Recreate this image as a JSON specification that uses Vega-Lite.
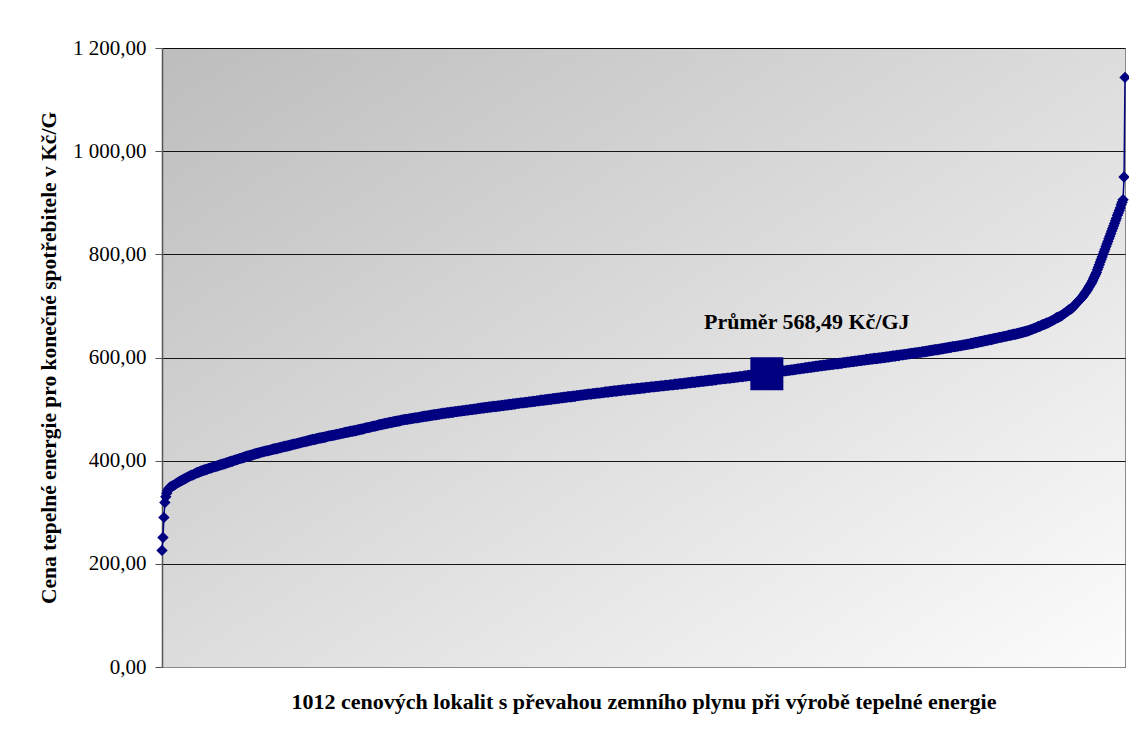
{
  "$schema": "https://vega.github.io/schema/vega-lite/v6.json",
  "autosize": {"type": "none"},
  "width": 963,
  "height": 619,
  "padding": {"left": 162, "top": 48, "right": 4, "bottom": 68},
  "background": "#ffffff",
  "config": {
    "locale": {"number": {"decimal": ",", "thousands": " ", "grouping": [3], "currency": ["", " Kč"]}},
    "view": {
      "stroke": "#8a8a8a",
      "strokeWidth": 1,
      "fill": {"gradient": "linear", "x1": 0, "y1": 0, "x2": 1, "y2": 1,
        "stops": [{"offset": 0, "color": "#bdbdbd"}, {"offset": 1, "color": "#fcfcfc"}]}
    },
    "font": "Liberation Serif"
  },
  "datasets": {
    "prices": [
{"v":226},{"v":251},{"v":290},{"v":319},{"v":330},{"v":337},{"v":342},{"v":345},{"v":348},{"v":349},
{"v":350},{"v":351},{"v":352},{"v":353},{"v":354},{"v":356},{"v":357},{"v":358},{"v":359},{"v":360},
{"v":361},{"v":362},{"v":363},{"v":364},{"v":365},{"v":366},{"v":367},{"v":368},{"v":369},{"v":370},
{"v":371},{"v":372},{"v":372},{"v":373},{"v":374},{"v":375},{"v":376},{"v":377},{"v":377},{"v":378},
{"v":379},{"v":380},{"v":380},{"v":381},{"v":382},{"v":382},{"v":383},{"v":383},{"v":384},{"v":385},
{"v":385},{"v":386},{"v":386},{"v":387},{"v":388},{"v":388},{"v":389},{"v":389},{"v":390},{"v":390},
{"v":391},{"v":392},{"v":392},{"v":393},{"v":393},{"v":394},{"v":394},{"v":395},{"v":396},{"v":396},
{"v":397},{"v":398},{"v":398},{"v":399},{"v":399},{"v":400},{"v":401},{"v":401},{"v":402},{"v":402},
{"v":403},{"v":404},{"v":404},{"v":405},{"v":405},{"v":406},{"v":406},{"v":407},{"v":408},{"v":408},
{"v":409},{"v":409},{"v":410},{"v":410},{"v":411},{"v":411},{"v":412},{"v":413},{"v":413},{"v":414},
{"v":414},{"v":415},{"v":415},{"v":416},{"v":416},{"v":417},{"v":417},{"v":418},{"v":418},{"v":419},
{"v":419},{"v":419},{"v":420},{"v":420},{"v":421},{"v":421},{"v":422},{"v":422},{"v":423},{"v":423},
{"v":423},{"v":424},{"v":424},{"v":425},{"v":425},{"v":426},{"v":426},{"v":427},{"v":427},{"v":428},
{"v":428},{"v":428},{"v":429},{"v":429},{"v":430},{"v":430},{"v":431},{"v":431},{"v":432},{"v":432},
{"v":432},{"v":433},{"v":433},{"v":434},{"v":434},{"v":435},{"v":435},{"v":436},{"v":436},{"v":437},
{"v":437},{"v":437},{"v":438},{"v":438},{"v":439},{"v":439},{"v":440},{"v":440},{"v":441},{"v":441},
{"v":441},{"v":442},{"v":442},{"v":443},{"v":443},{"v":444},{"v":444},{"v":444},{"v":445},{"v":445},
{"v":445},{"v":446},{"v":446},{"v":447},{"v":447},{"v":448},{"v":448},{"v":448},{"v":449},{"v":449},
{"v":449},{"v":450},{"v":450},{"v":451},{"v":451},{"v":451},{"v":452},{"v":452},{"v":453},{"v":453},
{"v":453},{"v":454},{"v":454},{"v":455},{"v":455},{"v":455},{"v":456},{"v":456},{"v":457},{"v":457},
{"v":457},{"v":458},{"v":458},{"v":458},{"v":459},{"v":459},{"v":460},{"v":460},{"v":461},{"v":461},
{"v":461},{"v":462},{"v":462},{"v":463},{"v":463},{"v":464},{"v":464},{"v":464},{"v":465},{"v":465},
{"v":466},{"v":466},{"v":467},{"v":467},{"v":467},{"v":468},{"v":468},{"v":469},{"v":469},{"v":470},
{"v":470},{"v":470},{"v":471},{"v":471},{"v":472},{"v":472},{"v":472},{"v":473},{"v":473},{"v":474},
{"v":474},{"v":474},{"v":475},{"v":475},{"v":476},{"v":476},{"v":476},{"v":477},{"v":477},{"v":477},
{"v":478},{"v":478},{"v":479},{"v":479},{"v":479},{"v":480},{"v":480},{"v":480},{"v":480},{"v":481},
{"v":481},{"v":481},{"v":482},{"v":482},{"v":482},{"v":483},{"v":483},{"v":483},{"v":483},{"v":484},
{"v":484},{"v":484},{"v":485},{"v":485},{"v":485},{"v":486},{"v":486},{"v":486},{"v":486},{"v":487},
{"v":487},{"v":487},{"v":488},{"v":488},{"v":488},{"v":489},{"v":489},{"v":489},{"v":489},{"v":490},
{"v":490},{"v":490},{"v":491},{"v":491},{"v":491},{"v":492},{"v":492},{"v":492},{"v":492},{"v":493},
{"v":493},{"v":493},{"v":493},{"v":494},{"v":494},{"v":494},{"v":494},{"v":495},{"v":495},{"v":495},
{"v":495},{"v":496},{"v":496},{"v":496},{"v":496},{"v":497},{"v":497},{"v":497},{"v":497},{"v":498},
{"v":498},{"v":498},{"v":498},{"v":499},{"v":499},{"v":499},{"v":499},{"v":500},{"v":500},{"v":500},
{"v":500},{"v":501},{"v":501},{"v":501},{"v":501},{"v":502},{"v":502},{"v":502},{"v":502},{"v":503},
{"v":503},{"v":503},{"v":503},{"v":504},{"v":504},{"v":504},{"v":504},{"v":505},{"v":505},{"v":505},
{"v":505},{"v":505},{"v":506},{"v":506},{"v":506},{"v":506},{"v":507},{"v":507},{"v":507},{"v":507},
{"v":508},{"v":508},{"v":508},{"v":508},{"v":509},{"v":509},{"v":509},{"v":509},{"v":510},{"v":510},
{"v":510},{"v":510},{"v":511},{"v":511},{"v":511},{"v":511},{"v":512},{"v":512},{"v":512},{"v":512},
{"v":512},{"v":513},{"v":513},{"v":513},{"v":513},{"v":514},{"v":514},{"v":514},{"v":514},{"v":515},
{"v":515},{"v":515},{"v":515},{"v":516},{"v":516},{"v":516},{"v":516},{"v":517},{"v":517},{"v":517},
{"v":517},{"v":517},{"v":518},{"v":518},{"v":518},{"v":518},{"v":519},{"v":519},{"v":519},{"v":519},
{"v":520},{"v":520},{"v":520},{"v":520},{"v":521},{"v":521},{"v":521},{"v":521},{"v":522},{"v":522},
{"v":522},{"v":522},{"v":523},{"v":523},{"v":523},{"v":523},{"v":524},{"v":524},{"v":524},{"v":524},
{"v":524},{"v":525},{"v":525},{"v":525},{"v":525},{"v":526},{"v":526},{"v":526},{"v":526},{"v":527},
{"v":527},{"v":527},{"v":527},{"v":528},{"v":528},{"v":528},{"v":528},{"v":529},{"v":529},{"v":529},
{"v":529},{"v":529},{"v":530},{"v":530},{"v":530},{"v":530},{"v":531},{"v":531},{"v":531},{"v":531},
{"v":531},{"v":532},{"v":532},{"v":532},{"v":532},{"v":533},{"v":533},{"v":533},{"v":533},{"v":533},
{"v":534},{"v":534},{"v":534},{"v":534},{"v":535},{"v":535},{"v":535},{"v":535},{"v":535},{"v":536},
{"v":536},{"v":536},{"v":536},{"v":537},{"v":537},{"v":537},{"v":537},{"v":537},{"v":538},{"v":538},
{"v":538},{"v":538},{"v":538},{"v":539},{"v":539},{"v":539},{"v":539},{"v":539},{"v":540},{"v":540},
{"v":540},{"v":540},{"v":540},{"v":541},{"v":541},{"v":541},{"v":541},{"v":541},{"v":542},{"v":542},
{"v":542},{"v":542},{"v":542},{"v":543},{"v":543},{"v":543},{"v":543},{"v":543},{"v":544},{"v":544},
{"v":544},{"v":544},{"v":544},{"v":545},{"v":545},{"v":545},{"v":545},{"v":545},{"v":546},{"v":546},
{"v":546},{"v":546},{"v":546},{"v":547},{"v":547},{"v":547},{"v":547},{"v":547},{"v":548},{"v":548},
{"v":548},{"v":548},{"v":548},{"v":549},{"v":549},{"v":549},{"v":549},{"v":549},{"v":550},{"v":550},
{"v":550},{"v":550},{"v":551},{"v":551},{"v":551},{"v":551},{"v":552},{"v":552},{"v":552},{"v":552},
{"v":552},{"v":553},{"v":553},{"v":553},{"v":553},{"v":554},{"v":554},{"v":554},{"v":554},{"v":554},
{"v":555},{"v":555},{"v":555},{"v":555},{"v":556},{"v":556},{"v":556},{"v":556},{"v":556},{"v":557},
{"v":557},{"v":557},{"v":557},{"v":558},{"v":558},{"v":558},{"v":558},{"v":558},{"v":559},{"v":559},
{"v":559},{"v":559},{"v":559},{"v":560},{"v":560},{"v":560},{"v":560},{"v":560},{"v":561},{"v":561},
{"v":561},{"v":561},{"v":562},{"v":562},{"v":562},{"v":562},{"v":563},{"v":563},{"v":563},{"v":563},
{"v":563},{"v":564},{"v":564},{"v":564},{"v":564},{"v":565},{"v":565},{"v":565},{"v":565},{"v":566},
{"v":566},{"v":566},{"v":566},{"v":567},{"v":567},{"v":567},{"v":567},{"v":568},{"v":568},{"v":568},
{"v":568},{"v":569},{"v":569},{"v":569},{"v":569},{"v":570},{"v":570},{"v":570},{"v":570},{"v":571},
{"v":571},{"v":571},{"v":571},{"v":572},{"v":572},{"v":572},{"v":572},{"v":573},{"v":573},{"v":573},
{"v":573},{"v":573},{"v":574},{"v":574},{"v":574},{"v":574},{"v":575},{"v":575},{"v":575},{"v":575},
{"v":576},{"v":576},{"v":576},{"v":576},{"v":577},{"v":577},{"v":577},{"v":578},{"v":578},{"v":578},
{"v":578},{"v":579},{"v":579},{"v":579},{"v":579},{"v":580},{"v":580},{"v":580},{"v":580},{"v":581},
{"v":581},{"v":581},{"v":581},{"v":582},{"v":582},{"v":582},{"v":583},{"v":583},{"v":583},{"v":583},
{"v":584},{"v":584},{"v":584},{"v":584},{"v":585},{"v":585},{"v":585},{"v":585},{"v":586},{"v":586},
{"v":586},{"v":586},{"v":587},{"v":587},{"v":587},{"v":587},{"v":588},{"v":588},{"v":588},{"v":588},
{"v":588},{"v":589},{"v":589},{"v":589},{"v":589},{"v":590},{"v":590},{"v":590},{"v":590},{"v":591},
{"v":591},{"v":591},{"v":591},{"v":592},{"v":592},{"v":592},{"v":592},{"v":593},{"v":593},{"v":593},
{"v":593},{"v":594},{"v":594},{"v":594},{"v":594},{"v":595},{"v":595},{"v":595},{"v":595},{"v":596},
{"v":596},{"v":596},{"v":596},{"v":597},{"v":597},{"v":597},{"v":597},{"v":598},{"v":598},{"v":598},
{"v":598},{"v":598},{"v":599},{"v":599},{"v":599},{"v":599},{"v":600},{"v":600},{"v":600},{"v":600},
{"v":601},{"v":601},{"v":601},{"v":601},{"v":602},{"v":602},{"v":602},{"v":603},{"v":603},{"v":603},
{"v":603},{"v":604},{"v":604},{"v":604},{"v":604},{"v":605},{"v":605},{"v":605},{"v":605},{"v":606},
{"v":606},{"v":606},{"v":606},{"v":607},{"v":607},{"v":607},{"v":608},{"v":608},{"v":608},{"v":608},
{"v":609},{"v":609},{"v":609},{"v":609},{"v":610},{"v":610},{"v":610},{"v":610},{"v":611},{"v":611},
{"v":611},{"v":611},{"v":612},{"v":612},{"v":612},{"v":613},{"v":613},{"v":613},{"v":614},{"v":614},
{"v":614},{"v":615},{"v":615},{"v":615},{"v":615},{"v":616},{"v":616},{"v":616},{"v":617},{"v":617},
{"v":617},{"v":618},{"v":618},{"v":618},{"v":619},{"v":619},{"v":619},{"v":620},{"v":620},{"v":620},
{"v":621},{"v":621},{"v":621},{"v":621},{"v":622},{"v":622},{"v":622},{"v":623},{"v":623},{"v":623},
{"v":624},{"v":624},{"v":624},{"v":625},{"v":625},{"v":625},{"v":626},{"v":626},{"v":626},{"v":627},
{"v":627},{"v":627},{"v":628},{"v":628},{"v":629},{"v":629},{"v":629},{"v":630},{"v":630},{"v":631},
{"v":631},{"v":631},{"v":632},{"v":632},{"v":633},{"v":633},{"v":633},{"v":634},{"v":634},{"v":635},
{"v":635},{"v":635},{"v":636},{"v":636},{"v":637},{"v":637},{"v":637},{"v":638},{"v":638},{"v":639},
{"v":639},{"v":639},{"v":640},{"v":640},{"v":641},{"v":641},{"v":641},{"v":642},{"v":642},{"v":643},
{"v":643},{"v":643},{"v":644},{"v":644},{"v":645},{"v":645},{"v":645},{"v":646},{"v":646},{"v":647},
{"v":647},{"v":648},{"v":648},{"v":649},{"v":649},{"v":650},{"v":650},{"v":651},{"v":651},{"v":652},
{"v":652},{"v":653},{"v":654},{"v":654},{"v":655},{"v":656},{"v":657},{"v":657},{"v":658},{"v":659},
{"v":660},{"v":660},{"v":661},{"v":662},{"v":663},{"v":664},{"v":664},{"v":665},{"v":666},{"v":667},
{"v":667},{"v":668},{"v":669},{"v":670},{"v":671},{"v":672},{"v":673},{"v":674},{"v":675},{"v":677},
{"v":677},{"v":678},{"v":679},{"v":680},{"v":681},{"v":682},{"v":684},{"v":685},{"v":686},{"v":688},
{"v":689},{"v":690},{"v":692},{"v":693},{"v":694},{"v":695},{"v":697},{"v":699},{"v":701},{"v":703},
{"v":705},{"v":707},{"v":709},{"v":711},{"v":713},{"v":715},{"v":717},{"v":719},{"v":722},{"v":725},
{"v":727},{"v":730},{"v":733},{"v":736},{"v":739},{"v":742},{"v":745},{"v":749},{"v":753},{"v":757},
{"v":761},{"v":765},{"v":770},{"v":775},{"v":780},{"v":785},{"v":790},{"v":795},{"v":800},{"v":805},
{"v":810},{"v":815},{"v":820},{"v":825},{"v":830},{"v":835},{"v":840},{"v":845},{"v":850},{"v":855},
{"v":860},{"v":865},{"v":870},{"v":876},{"v":880},{"v":885},{"v":890},{"v":896},{"v":901},{"v":906},
{"v":950},{"v":1143}
    ],
    "mean": [
      {"n": 636, "v": 568.49, "label": "Průměr 568,49 Kč/GJ"}
    ]
  },
  "layer": [
    {
      "data": {"name": "prices"},
      "transform": [{"window": [{"op": "row_number", "as": "n"}]}],
      "mark": {
        "type": "line",
        "color": "#000080",
        "strokeWidth": 1.5,
        "point": {"shape": "diamond", "size": 130, "filled": true, "color": "#000080", "strokeWidth": 0}
      },
      "encoding": {
        "x": {
          "field": "n", "type": "quantitative",
          "scale": {"domain": [1, 1012], "nice": false, "zero": false},
          "axis": {
            "title": "1012 cenových lokalit s převahou zemního plynu při výrobě tepelné energie",
            "labels": false, "ticks": false, "grid": false,
            "domain": true, "domainColor": "#8a8a8a", "domainWidth": 1,
            "titleFont": "Liberation Serif", "titleFontSize": 22, "titleFontWeight": "bold",
            "titleColor": "#000000", "titlePadding": 24
          }
        },
        "y": {
          "field": "v", "type": "quantitative",
          "scale": {"domain": [0, 1200], "nice": false, "zero": true},
          "axis": {
            "title": "Cena tepelné energie pro konečné spotřebitele v Kč/G",
            "values": [0, 200, 400, 600, 800, 1000, 1200],
            "format": ",.2f",
            "labelFont": "Liberation Serif", "labelFontSize": 21, "labelColor": "#000000",
            "labelPadding": 9,
            "ticks": true, "tickSize": 7, "tickColor": "#555555", "tickWidth": 1,
            "domain": true, "domainColor": "#555555", "domainWidth": 1.5,
            "grid": true, "gridColor": "#000000", "gridWidth": 1, "gridOpacity": 0.9,
            "titleFont": "Liberation Serif", "titleFontSize": 21.5, "titleFontWeight": "bold",
            "titleColor": "#000000", "titlePadding": 12
          }
        }
      }
    },
    {
      "data": {"name": "mean"},
      "mark": {"type": "point", "shape": "square", "size": 1089, "filled": true, "color": "#000080", "opacity": 1, "strokeWidth": 0},
      "encoding": {
        "x": {"field": "n", "type": "quantitative"},
        "y": {"field": "v", "type": "quantitative"}
      }
    },
    {
      "data": {"name": "mean"},
      "mark": {"type": "text", "font": "Liberation Serif", "fontSize": 22, "fontWeight": "bold", "color": "#000000", "align": "center", "baseline": "alphabetic", "dx": 40, "dy": -45},
      "encoding": {
        "x": {"field": "n", "type": "quantitative"},
        "y": {"field": "v", "type": "quantitative"},
        "text": {"field": "label"}
      }
    }
  ]
}
